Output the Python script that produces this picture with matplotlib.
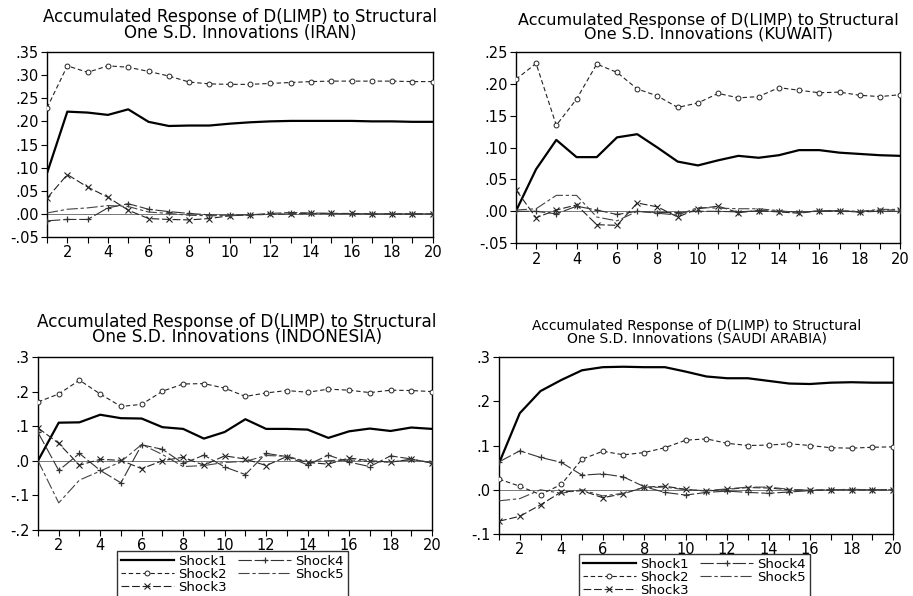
import matplotlib
matplotlib.use('Agg')
import matplotlib.pyplot as plt
from matplotlib.ticker import FuncFormatter, MultipleLocator

plt.rcParams['font.family'] = ['DejaVu Sans']

periods = list(range(1, 21))
shockNames = ['Shock1', 'Shock2', 'Shock3', 'Shock4', 'Shock5']

iranShock1 = [0.088, 0.221, 0.219, 0.214, 0.226, 0.199, 0.190, 0.191, 0.191, 0.195,
              0.198, 0.200, 0.201, 0.201, 0.201, 0.201, 0.200, 0.200, 0.199, 0.199]
iranShock2 = [0.229, 0.320, 0.306, 0.320, 0.317, 0.308, 0.298, 0.285, 0.281, 0.280,
              0.280, 0.282, 0.284, 0.286, 0.287, 0.287, 0.287, 0.287, 0.286, 0.286]
iranShock3 = [0.034, 0.085, 0.058, 0.036, 0.008, -0.010, -0.012, -0.013, -0.010, -0.004,
              -0.002, -0.001, 0.000, 0.001, 0.001, 0.001, 0.000, 0.000, 0.000, 0.000]
iranShock4 = [-0.015, -0.012, -0.012, 0.013, 0.022, 0.010, 0.005, 0.001, -0.002, -0.003,
              -0.002, 0.001, 0.003, 0.002, 0.001, 0.000, 0.000, 0.000, 0.000, 0.000]
iranShock5 = [0.002, 0.010, 0.013, 0.018, 0.016, 0.004, 0.001, -0.003, -0.004, -0.004,
              -0.002, -0.001, 0.000, 0.000, 0.000, 0.000, 0.000, 0.000, 0.000, 0.000]

kuwaitShock1 = [0.000, 0.066, 0.112, 0.085, 0.085, 0.116, 0.121, 0.100, 0.078, 0.072,
                0.080, 0.087, 0.084, 0.088, 0.096, 0.096, 0.092, 0.090, 0.088, 0.087]
kuwaitShock2 = [0.207, 0.232, 0.135, 0.176, 0.231, 0.218, 0.192, 0.181, 0.163, 0.170,
                0.185, 0.178, 0.180, 0.194, 0.190, 0.186, 0.187, 0.182, 0.180, 0.183]
kuwaitShock3 = [0.034, -0.010, 0.002, 0.010, -0.021, -0.022, 0.013, 0.007, -0.009, 0.004,
                0.008, -0.002, 0.001, -0.001, -0.003, 0.001, 0.001, -0.001, 0.002, 0.002]
kuwaitShock4 = [0.000, 0.000, -0.004, 0.008, 0.002, -0.005, 0.000, -0.002, -0.002, 0.000,
                0.000, -0.001, 0.001, 0.000, -0.001, 0.000, 0.000, -0.001, 0.000, 0.000]
kuwaitShock5 = [0.002, 0.004, 0.025, 0.025, -0.009, -0.015, 0.000, -0.003, -0.006, 0.006,
                0.005, 0.004, 0.004, 0.001, -0.002, 0.001, 0.001, 0.000, 0.003, 0.003]

indonesiaShock1 = [0.000, 0.110, 0.111, 0.133, 0.123, 0.122, 0.097, 0.092, 0.064, 0.083,
                   0.120, 0.092, 0.092, 0.090, 0.066, 0.085, 0.093, 0.086, 0.096, 0.092]
indonesiaShock2 = [0.170, 0.193, 0.233, 0.193, 0.157, 0.163, 0.201, 0.222, 0.223, 0.210,
                   0.186, 0.196, 0.203, 0.198, 0.207, 0.204, 0.197, 0.204, 0.203, 0.200]
indonesiaShock3 = [0.095, 0.050, -0.013, 0.004, 0.001, -0.023, 0.000, 0.010, -0.013, 0.014,
                   0.005, -0.014, 0.012, -0.005, -0.010, 0.008, 0.000, -0.004, 0.004, -0.006]
indonesiaShock4 = [0.082, -0.028, 0.021, -0.028, -0.064, 0.046, 0.033, -0.008, 0.016, -0.018,
                   -0.040, 0.021, 0.012, -0.012, 0.016, -0.004, -0.017, 0.014, 0.005, -0.007]
indonesiaShock5 = [0.000, -0.122, -0.056, -0.030, -0.003, 0.047, 0.018, -0.017, -0.014, -0.005,
                   -0.002, 0.015, 0.013, -0.003, 0.000, 0.003, -0.003, -0.004, 0.003, -0.005]

saudiShock1 = [0.060, 0.173, 0.223, 0.248, 0.270, 0.277, 0.278, 0.277, 0.277, 0.267,
               0.256, 0.252, 0.252, 0.246, 0.240, 0.239, 0.242, 0.243, 0.242, 0.242]
saudiShock2 = [0.024, 0.008, -0.011, 0.012, 0.069, 0.087, 0.079, 0.084, 0.095, 0.112,
               0.115, 0.105, 0.100, 0.101, 0.104, 0.100, 0.095, 0.094, 0.096, 0.097]
saudiShock3 = [-0.071, -0.060, -0.034, -0.005, -0.002, -0.018, -0.009, 0.006, 0.008, 0.001,
               -0.003, 0.001, 0.005, 0.004, 0.000, -0.001, 0.000, 0.000, 0.000, 0.000]
saudiShock4 = [0.063, 0.088, 0.073, 0.062, 0.033, 0.036, 0.029, 0.007, -0.006, -0.012,
               -0.006, -0.003, -0.006, -0.008, -0.005, -0.002, 0.000, 0.000, 0.000, 0.000]
saudiShock5 = [-0.025, -0.020, 0.000, -0.008, 0.000, -0.014, -0.008, 0.005, 0.006, 0.000,
               -0.002, 0.002, 0.006, 0.006, 0.001, -0.001, 0.000, 0.001, 0.000, 0.000]

countries = ['IRAN', 'KUWAIT', 'INDONESIA', 'SAUDI ARABIA']


def tickText(value, pos):
    return ('%.1f' % value).replace('0.', '.', 1)


def tickTextTwo(value, pos):
    return ('%.2f' % value).replace('0.', '.', 1)


styles = [
    dict(color='black', linewidth=1.6, linestyle='-'),
    dict(color='#222222', linewidth=0.8, linestyle=(0, (4, 2.5)), marker='o', markersize=3.5,
         markerfacecolor='white', markeredgewidth=0.7),
    dict(color='#222222', linewidth=0.8, linestyle=(0, (7, 2.5)), marker='x', markersize=4.5,
         markeredgewidth=0.8),
    dict(color='#333333', linewidth=0.8, linestyle=(0, (12, 2.5)), marker='+', markersize=5,
         markeredgewidth=0.9),
    dict(color='#444444', linewidth=0.8, linestyle=(0, (10, 2.5, 3, 2.5))),
]


def drawPanel(fig, rect, series, ylim, ystep, formatter):
    ax = fig.add_axes(rect)
    ax.axhline(0, color='#777777', linewidth=0.7, zorder=1)
    handles = []
    for name, values, style in zip(shockNames, series, styles):
        line, = ax.plot(periods, values, label=name, zorder=3, **style)
        handles.append(line)
    ax.set_xlim(1, 20)
    ax.set_ylim(*ylim)
    ax.xaxis.set_major_locator(MultipleLocator(2))
    ax.xaxis.set_minor_locator(MultipleLocator(1))
    ax.yaxis.set_major_locator(MultipleLocator(ystep))
    ax.yaxis.set_major_formatter(FuncFormatter(formatter))
    ax.tick_params(axis='both', which='both', direction='out', length=4, width=0.8,
                   labelsize=10.5, pad=2, top=False, right=False)
    for spine in ax.spines.values():
        spine.set_linewidth(1.0)
    return ax, handles


fig = plt.figure(figsize=(9.13, 5.96), dpi=100)

ax1, handles = drawPanel(fig, [0.0515, 0.6023, 0.4225, 0.3105],
                         [iranShock1, iranShock2, iranShock3, iranShock4, iranShock5],
                         (-0.05, 0.35), 0.05, tickTextTwo)
ax2, _ = drawPanel(fig, [0.565, 0.592, 0.421, 0.3208],
                   [kuwaitShock1, kuwaitShock2, kuwaitShock3, kuwaitShock4, kuwaitShock5],
                   (-0.05, 0.25), 0.05, tickTextTwo)
ax3, _ = drawPanel(fig, [0.0416, 0.111, 0.4316, 0.290],
                   [indonesiaShock1, indonesiaShock2, indonesiaShock3, indonesiaShock4, indonesiaShock5],
                   (-0.2, 0.3), 0.1, tickText)
ax4, _ = drawPanel(fig, [0.5466, 0.104, 0.4315, 0.297],
                   [saudiShock1, saudiShock2, saudiShock3, saudiShock4, saudiShock5],
                   (-0.1, 0.3), 0.1, tickText)

# title: centre x, baseline of the last line, font size
titleSpecs = [
    (240, 37.5, 12.0, countries[0]),
    (708, 38.5, 11.5, countries[1]),
    (237, 342.5, 12.2, countries[2]),
    (697, 342.5, 10.0, countries[3]),
]
for cx, baseline, size, country in titleSpecs:
    fig.text(cx / 913, 1 - baseline / 596,
             'Accumulated Response of D(LIMP) to Structural\nOne S.D. Innovations (%s)' % country,
             ha='center', va='baseline', fontsize=size, linespacing=0.85, multialignment='center')

for left, top in [(117, 551), (579, 554)]:
    legend = fig.legend(handles, shockNames, ncol=2, loc='upper left',
                        bbox_to_anchor=(left / 913, 1 - top / 596), borderaxespad=0,
                        fontsize=9.5, handlelength=4.0, handletextpad=0.3, columnspacing=0.9,
                        labelspacing=0.0, borderpad=0.3, numpoints=1, fancybox=False,
                        frameon=True, edgecolor='black')
    legend.get_frame().set_linewidth(1.0)

fig.savefig('out.png', dpi=100)
